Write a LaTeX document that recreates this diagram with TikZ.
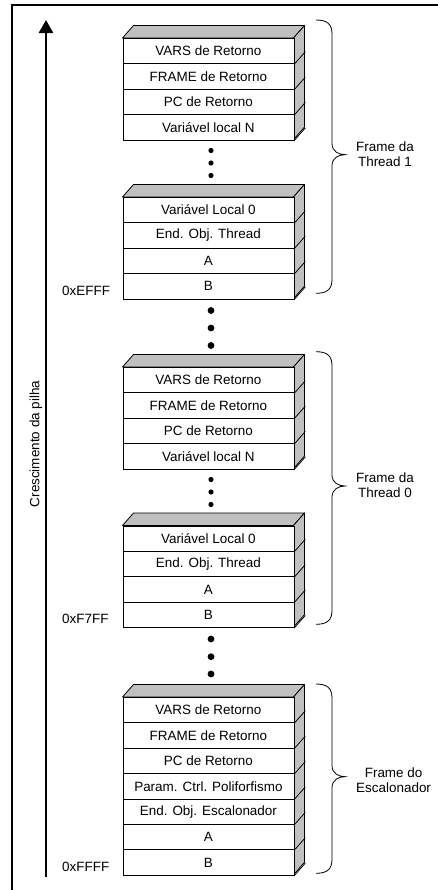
\documentclass[tikz,border=0pt]{standalone}
\usepackage{fontspec}
\setmainfont{Liberation Sans}
\usetikzlibrary{arrows.meta}
\definecolor{sidegray}{RGB}{192,192,192}
\tikzset{
  cell/.style={draw=black, fill=white, line width=0.8bp, minimum width=171bp,
    minimum height=25.4bp, inner sep=0pt, font=\fontsize{13.5}{15}\selectfont, anchor=north west},
  face/.style={draw=black, fill=sidegray, line width=0.8bp, line join=round},
  lbl/.style={font=\fontsize{13.5}{15}\selectfont, inner sep=0pt},
  sdot/.style={circle, fill=black, draw=none, inner sep=0pt, minimum size=5.2bp},
  bdot/.style={circle, fill=black, draw=none, inner sep=0pt, minimum size=6.8bp},
  bracepath/.style={draw=black, line width=0.8bp},
}
\newcommand\stackblk[4]{%
  \pgfmathsetmacro\blkbot{#2+#3*25.4}
  \filldraw[face] (122.5,#2) -- (133.5,#2-12.5) -- (304.5,#2-12.5) -- (293.5,#2) -- cycle;
  \filldraw[face] (293.5,#2) -- (304.5,#2-12.5) -- (304.5,\blkbot-12.5) -- (293.5,\blkbot) -- cycle;
  \foreach \txt [count=\i] in {#4} {
    \node[cell] (#1r\i) at (122.5,{#2+(\i-1)*25.4}) {\txt};
    \draw[line width=0.8bp] (#1r\i.south east) -- ++(11,-12.5);
  }
}
\newcommand\sidebrace[3]{% name, top, bottom
  \pgfmathsetmacro\bmid{(#2+#3)/2-2}
  \draw[bracepath] (316,#2) .. controls (327,#2) and (332,#2+4) .. (332,#2+14)
    -- (332,\bmid-11) .. controls (332,\bmid-3) and (339,\bmid) .. (345,\bmid)
    .. controls (339,\bmid) and (332,\bmid+3) .. (332,\bmid+11)
    -- (332,#3-14) .. controls (332,#3-4) and (327,#3) .. (316,#3);
  \coordinate (#1) at (345,\bmid);
}
\begin{document}
\begin{tikzpicture}[x=1bp,y=-1bp]
\useasboundingbox (0,0) rectangle (438,890);
% outer frame
\draw[line width=2bp] (12,900) -- (12,5) -- (450,5);
% growth arrow
\coordinate (abot) at (46,877);
\coordinate (atop) at (46,20);
\draw[line width=2.6bp, -{Triangle[length=13bp,width=14bp]}] (abot) -- (atop);
\node[lbl, rotate=90] (grow) at (36,444) {Crescimento da pilha};

% blocks
\stackblk{ba}{38}{4}{VARS de Retorno, FRAME de Retorno, PC de Retorno, Variável local N}
\stackblk{bb}{197}{4}{Variável Local 0, End. Obj. Thread, A, B}
\stackblk{bc}{367}{4}{VARS de Retorno, FRAME de Retorno, PC de Retorno, Variável local N}
\stackblk{bd}{525.5}{4}{Variável Local 0, End. Obj. Thread, A, B}
\stackblk{be}{697}{7}{VARS de Retorno, FRAME de Retorno, PC de Retorno, Param. Ctrl. Poliforfismo, End. Obj. Escalonador, A, B}

% dots
\node[sdot] (d1) at (211,150.5) {};
\node[sdot] (d2) at (211,163) {};
\node[sdot] (d3) at (211,175.5) {};
\node[bdot] (d4) at (211,310.5) {};
\node[bdot] (d5) at (211,328) {};
\node[bdot] (d6) at (211,345.5) {};
\node[sdot] (d7) at (211,479.5) {};
\node[sdot] (d8) at (211,492) {};
\node[sdot] (d9) at (211,504.5) {};
\node[bdot] (d10) at (211,639) {};
\node[bdot] (d11) at (211,656.7) {};
\node[bdot] (d12) at (211,674) {};

% addresses
\node[lbl, anchor=west] (addr1) at (62,290.5) {0xEFFF};
\node[lbl, anchor=west] (addr2) at (62,619) {0xF7FF};
\node[lbl, anchor=west] (addr3) at (62,867) {0xFFFF};

% braces
\sidebrace{br1}{20}{293.3}
\sidebrace{br2}{351.7}{624.3}
\sidebrace{br3}{684}{873.3}
\node[lbl, anchor=west, align=center] (lab1) at (356,154) {Frame da\\Thread 1};
\node[lbl, anchor=west, align=center] (lab2) at (356,485.5) {Frame da\\Thread 0};
\node[lbl, anchor=west, align=center] (lab3) at (356,780.5) {Frame do\\Escalonador};
\end{tikzpicture}
\end{document}
